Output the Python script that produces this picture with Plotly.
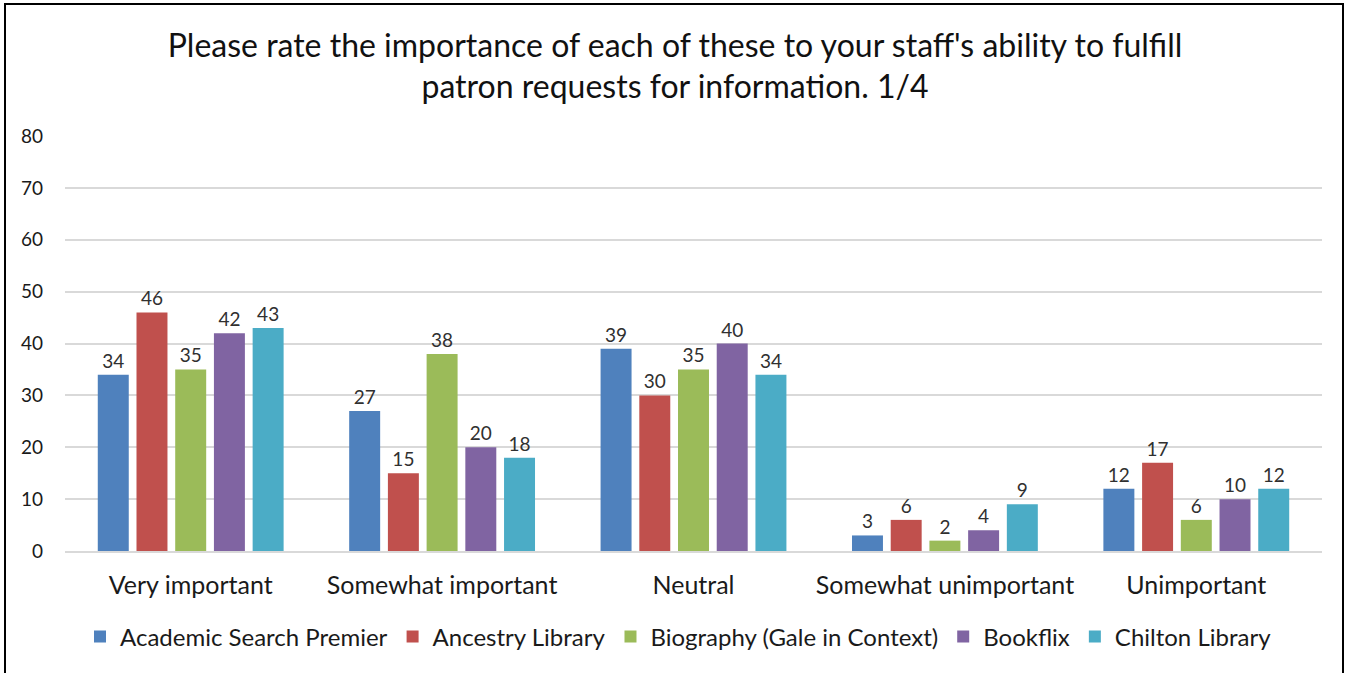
import plotly.graph_objects as go

categories = ["Very important", "Somewhat important", "Neutral", "Somewhat unimportant", "Unimportant"]
series_names = ["Academic Search Premier", "Ancestry Library", "Biography (Gale in Context)", "Bookflix", "Chilton Library"]
academic = [34, 27, 39, 3, 12]
ancestry = [46, 15, 30, 6, 17]
biography = [35, 38, 35, 2, 6]
bookflix = [42, 20, 40, 4, 10]
chilton = [43, 18, 34, 9, 12]
colors = ["#4F81BD", "#C0504D", "#9BBB59", "#8064A2", "#4BACC6"]
y_ticks = [0, 10, 20, 30, 40, 50, 60, 70, 80]

W, H = 1350, 673
ml, mr, mt, mb = 65, 28, 136, 122
font_family = "Lato, Open Sans, sans-serif"
dark = "#1a1a1a"

fig = go.Figure()
for name, vals, col in zip(series_names, [academic, ancestry, biography, bookflix, chilton], colors):
    fig.add_trace(go.Bar(
        name=name, x=categories, y=vals, marker=dict(color=col, line=dict(width=0)),
        text=[str(v) for v in vals], textposition="outside",
        textfont=dict(size=19, color="#303030", family=font_family),
        cliponaxis=False,
    ))

pw = W - ml - mr
ph = H - mt - mb
fig.update_layout(
    width=W, height=H,
    margin=dict(l=ml, r=mr, t=mt, b=mb),
    paper_bgcolor="white", plot_bgcolor="white",
    barmode="group", bargap=0.23, bargroupgap=0.2,
    font=dict(family=font_family, color=dark),
    title=dict(
        text="Please rate the importance of each of these to your staff's ability to fulfill<br>patron requests for information. 1/4",
        x=0.5, xanchor="center", y=1 - 56.5 / H, yanchor="middle",
        font=dict(size=32, color="#111111", family=font_family),
    ),
    xaxis=dict(showgrid=False, showline=True, linecolor="#D9D9D9", linewidth=1.5,
               tickfont=dict(size=25, color=dark), ticks="", ticklabelstandoff=11),
    yaxis=dict(range=[0, 80], tickvals=y_ticks, showgrid=True, gridcolor="#D9D9D9", gridwidth=1.5,
               zeroline=False, showline=False, tickfont=dict(size=19, color=dark), ticks="",
               ticklabelstandoff=21),
    legend=dict(orientation="h", x=0.5 - 15 / pw, xanchor="center", y=-(637 - 551) / ph, yanchor="middle",
                font=dict(size=24, color=dark), itemwidth=30, traceorder="normal"),
    showlegend=True,
)
fig.add_shape(type="rect", xref="paper", yref="paper",
              x0=(5 - ml) / pw, x1=(1343 - ml) / pw,
              y0=-(676 - (H - mb)) / ph, y1=1 + (mt - 4) / ph,
              line=dict(color="black", width=2), fillcolor="rgba(0,0,0,0)", layer="below")
fig.write_html("out.html", config={"displayModeBar": False},
               post_script="document.body.style.margin='0';document.body.style.overflow='hidden';")
